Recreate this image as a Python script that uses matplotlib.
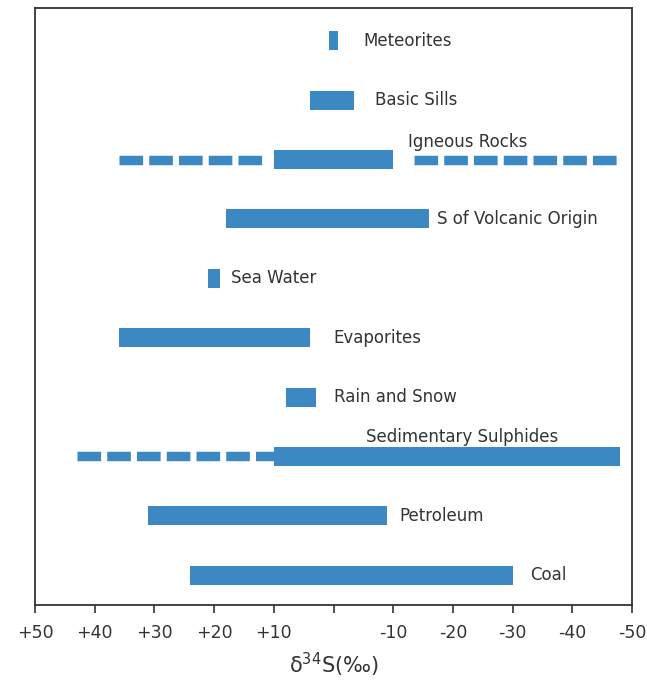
import numpy as np
import matplotlib
matplotlib.use("Agg")
import matplotlib.pyplot as plt

# delta 34S ranges (permil), upper = most positive end, lower = most negative end
sources = ["Meteorites", "Basic Sills", "Igneous Rocks", "S of Volcanic Origin",
           "Sea Water", "Evaporites", "Rain and Snow", "Sedimentary Sulphides",
           "Petroleum", "Coal"]
upper = [0.7, 4, 10, 18, 21, 36, 8, 10, 31, 24]
lower = [-0.8, -3.5, -10, -16, 19, 4, 3, -48, -9, -30]

# extended (dashed) ranges
ext_source = ["Igneous Rocks", "Igneous Rocks", "Sedimentary Sulphides"]
ext_from = [36, -13.5, 43]
ext_to = [12, -47.6, 10]

# label placement (x in permil, y shift in rows)
label_x = [-5, -7, -12.5, -17.3, 17.2, 0, 0, -5.4, -11, -33]
label_dy = [0, 0, -0.29, 0, 0, 0, 0, -0.32, 0, 0]

ticks = [50, 40, 30, 20, 10, 0, -10, -20, -30, -40, -50]
tick_labels = ["+50", "+40", "+30", "+20", "+10", "", "-10", "-20", "-30", "-40", "-50"]

blue = "#3B88C3"
grey = "#333333"

plt.rcParams["font.family"] = ["DejaVu Sans"]

fig = plt.figure(figsize=(6.47, 6.82), dpi=100)
ax = fig.add_axes([0.054, 0.113, 0.923, 0.875])

y = np.arange(len(sources))
upper = np.array(upper)
lower = np.array(lower)
ax.barh(y, upper - lower, left=lower, height=0.32, color=blue, edgecolor="none")

for name, a, b in zip(ext_source, ext_from, ext_to):
    yy = sources.index(name)
    ax.plot([a, b], [yy, yy], color=blue, lw=6.8, linestyle=(0, (2.5, 0.65)),
            dash_capstyle="butt", solid_capstyle="butt")

for i, name in enumerate(sources):
    ax.text(label_x[i], y[i] + label_dy[i], name, ha="left", va="center",
            fontsize=12, color=grey)

ax.set_xlim(50, -50)
ax.set_ylim(9.5, -0.55)
ax.set_yticks([])
ax.set_xticks(ticks)
ax.set_xticklabels(tick_labels, fontsize=12.5, color=grey)
ax.tick_params(axis="x", direction="out", length=6, width=1.2, color=grey, pad=8)
for s in ax.spines.values():
    s.set_color(grey)
    s.set_linewidth(1.3)
ax.set_xlabel(r"δ$^{34}$S(‰)", fontsize=15, color=grey, labelpad=6)

fig.savefig("out.png", dpi=100)
